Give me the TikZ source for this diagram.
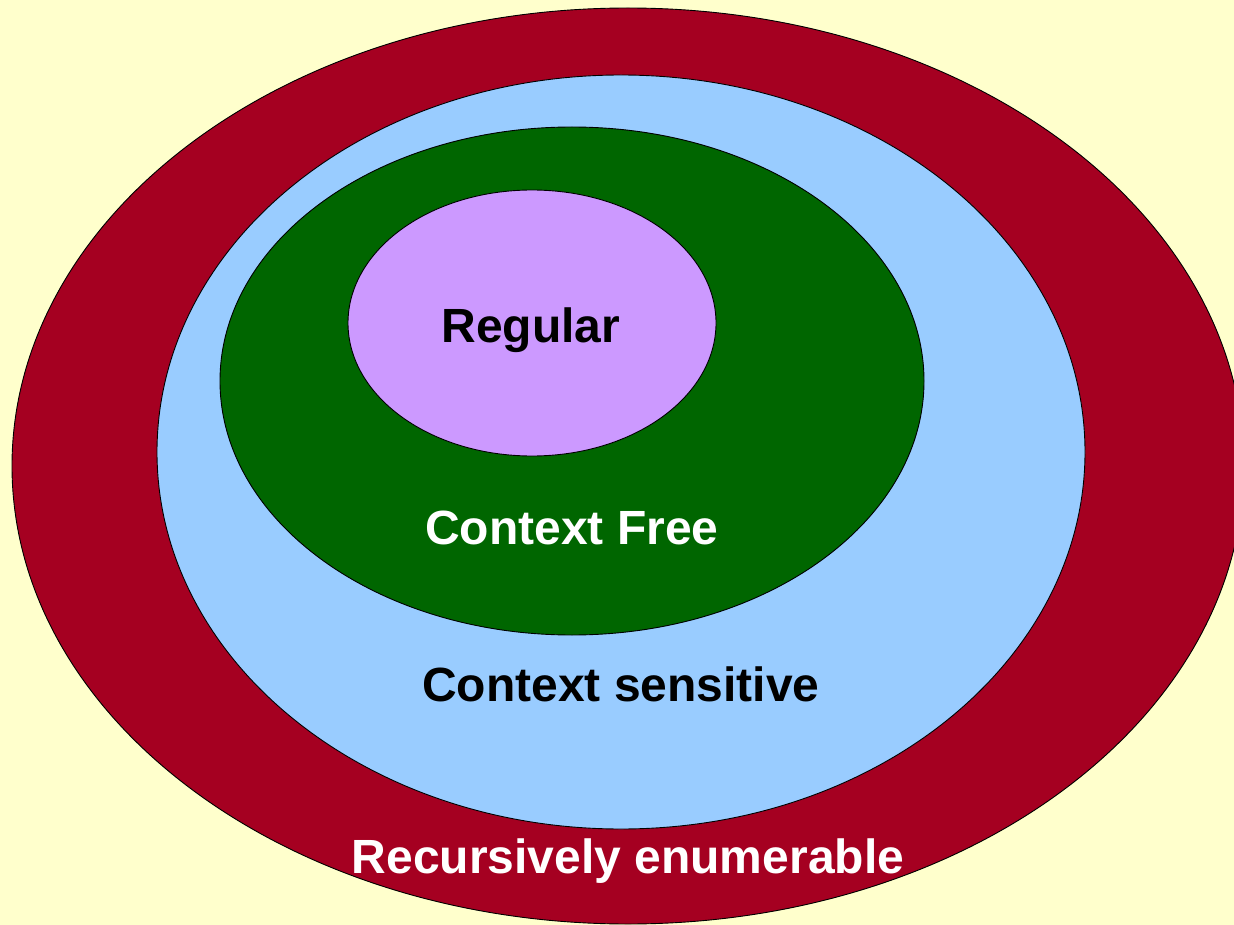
\documentclass[tikz,border=0pt]{standalone}
\usepackage{fontspec}
\setmainfont{Liberation Sans}
\begin{document}
\begin{tikzpicture}[x=1pt,y=-1pt,
  region/.style={draw=black,line width=0.9pt},
  lbl/.style={font=\fontsize{48}{56}\selectfont\bfseries,anchor=base,inner sep=0pt}]
\definecolor{bgyellow}{HTML}{FFFFCC}
\definecolor{rered}{HTML}{A50021}
\definecolor{csblue}{HTML}{99CCFF}
\definecolor{cfgreen}{HTML}{006600}
\definecolor{regpurple}{HTML}{CC99FF}
% canvas
\fill[bgyellow] (0,0) rectangle (1234,925);
\useasboundingbox (0,0) rectangle (1234,925);
\begin{scope}
\clip (0,0) rectangle (1234,925);
% nested language classes
\draw[region,fill=rered] (628,466) ellipse [x radius=616, y radius=458];
\draw[region,fill=csblue] (621,452) ellipse [x radius=464, y radius=377];
\draw[region,fill=cfgreen] (572,381) ellipse [x radius=352, y radius=254];
\draw[region,fill=regpurple] (532,323) ellipse [x radius=184, y radius=133];
\end{scope}
% labels
\node[lbl,text=black] (reg) at (531,342) {Regular};
\node[lbl,text=white] (cf) at (572,544) {Context Free};
\node[lbl,text=black] (cs) at (621,701) {Context sensitive};
\node[lbl,text=white] (re) at (628,873) {Recursively enumerable};
\end{tikzpicture}
\end{document}
